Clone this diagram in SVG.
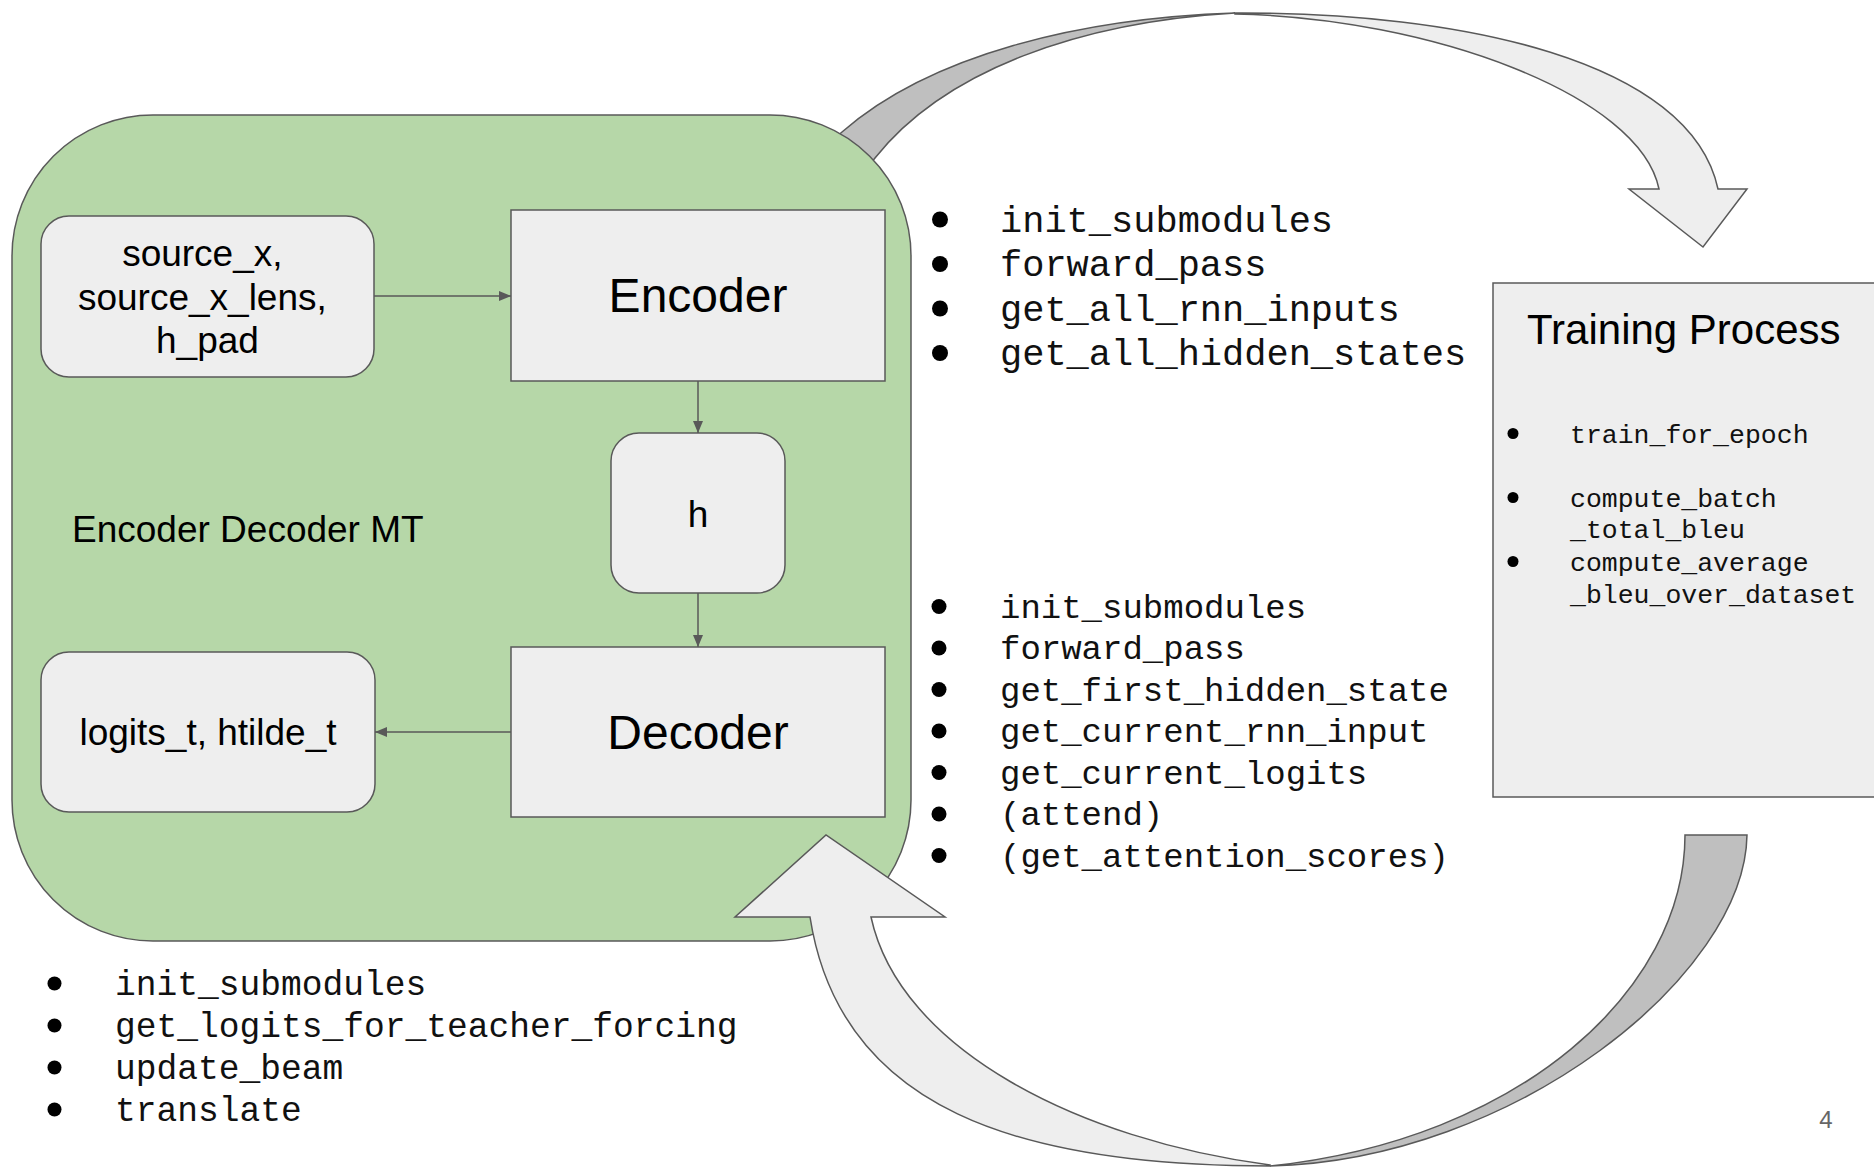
<svg xmlns="http://www.w3.org/2000/svg" width="1874" height="1167" viewBox="0 0 1874 1167">
  <style>
    .sans { font-family: "Liberation Sans", Arial, sans-serif; fill: #000; }
    .mono { font-family: "Liberation Mono", "Courier New", monospace; fill: #111; }
    .box { fill: #eeeeee; stroke: #595959; stroke-width: 1.5; }
    .band-light { fill: #eeeeee; stroke: #595959; stroke-width: 1.5; stroke-linejoin: miter; }
    .band-dark { fill: #bfbfbf; stroke: #595959; stroke-width: 1.5; stroke-linejoin: miter; }
    .link { stroke: #595959; stroke-width: 1.5; fill: none; marker-end: url(#tip); }
    .dot { fill: #000; }
  </style>
  <defs>
    <marker id="tip" markerUnits="userSpaceOnUse" markerWidth="12" markerHeight="10" refX="12" refY="5" orient="auto">
      <path d="M0,0 L12,5 L0,10 Z" fill="#595959"/>
    </marker>
  </defs>

  <rect x="0" y="0" width="1874" height="1167" fill="#ffffff"/>

  <!-- curved arrow: model -> training (passes behind the model box) -->
  <g id="arrow-to-training">
    <path class="band-dark" d="M820,151 L842,132 C930,55 1080,18 1235,13 C1080,22 945,70 875,158 L860,177 Z"/>
    <path class="band-light" d="M1235,13 C1460,12 1690,60 1718,189 L1747,189 L1703,247 L1629,189 L1659,189 C1640,95 1430,18 1235,14 Z"/>
  </g>

  <!-- model container -->
  <g id="encoder-decoder-mt">
    <rect x="12" y="115" width="899" height="826" rx="141" ry="141" fill="#b6d7a8" stroke="#595959" stroke-width="1.5"/>
    <text class="sans" x="72" y="542" font-size="37">Encoder Decoder MT</text>
  </g>

  <g id="source-inputs">
    <rect class="box" x="41" y="216" width="333" height="161" rx="28" ry="28"/>
    <text class="sans" font-size="37" text-anchor="middle">
      <tspan x="207.5" y="266">source_x,</tspan>
      <tspan x="207.5" y="309.5">source_x_lens,</tspan>
      <tspan x="207.5" y="353">h_pad</tspan>
    </text>
  </g>

  <g id="encoder">
    <rect class="box" x="511" y="210" width="374" height="171"/>
    <text class="sans" x="698" y="312" font-size="48" text-anchor="middle">Encoder</text>
  </g>

  <g id="hidden-state">
    <rect class="box" x="611" y="433" width="174" height="160" rx="28" ry="28"/>
    <text class="sans" x="698" y="527" font-size="37" text-anchor="middle">h</text>
  </g>

  <g id="decoder">
    <rect class="box" x="511" y="647" width="374" height="170"/>
    <text class="sans" x="698" y="749" font-size="48" text-anchor="middle">Decoder</text>
  </g>

  <g id="outputs">
    <rect class="box" x="41" y="652" width="334" height="160" rx="28" ry="28"/>
    <text class="sans" x="208" y="745" font-size="37" text-anchor="middle">logits_t, htilde_t</text>
  </g>

  <!-- connectors between the model parts -->
  <g id="connectors">
    <line class="link" x1="374" y1="296" x2="511" y2="296"/>
    <line class="link" x1="698" y1="381" x2="698" y2="433"/>
    <line class="link" x1="698" y1="593" x2="698" y2="647"/>
    <line class="link" x1="511" y1="732" x2="375" y2="732"/>
  </g>

  <!-- curved arrow: training -> model (drawn over the model box) -->
  <g id="arrow-from-training">
    <path class="band-dark" d="M1685,835 L1747,835 C1745,975 1515,1160 1270,1166 C1520,1140 1685,990 1685,835 Z"/>
    <path class="band-light" d="M1270,1166 C1020,1166 840,1110 810,917 L735,917 L826,835 L945,917 L871,917 C900,1050 1080,1140 1270,1165 Z"/>
  </g>

  <g id="training-process">
    <rect x="1493" y="283" width="395" height="514" fill="#eeeeee" stroke="#595959" stroke-width="1.5"/>
    <text class="sans" x="1527" y="344" font-size="42">Training Process</text>
    <circle class="dot" cx="1513" cy="433.5" r="5.5"/>
    <circle class="dot" cx="1513" cy="497.5" r="5.5"/>
    <circle class="dot" cx="1513" cy="561.5" r="5.5"/>
    <text class="mono" font-size="26.5">
      <tspan x="1570" y="442.5">train_for_epoch</tspan>
      <tspan x="1570" y="506.5">compute_batch</tspan>
      <tspan x="1570" y="537.5">_total_bleu</tspan>
      <tspan x="1570" y="570.5">compute_average</tspan>
      <tspan x="1570" y="602.5">_bleu_over_dataset</tspan>
    </text>
  </g>

  <!-- method lists -->
  <g id="encoder-methods">
    <circle class="dot" cx="940" cy="219.5" r="8"/>
    <circle class="dot" cx="940" cy="264" r="8"/>
    <circle class="dot" cx="940" cy="308.5" r="8"/>
    <circle class="dot" cx="940" cy="353" r="8"/>
    <text class="mono" font-size="37">
      <tspan x="1000" y="231.5">init_submodules</tspan>
      <tspan x="1000" y="276">forward_pass</tspan>
      <tspan x="1000" y="320.5">get_all_rnn_inputs</tspan>
      <tspan x="1000" y="365">get_all_hidden_states</tspan>
    </text>
  </g>

  <g id="decoder-methods">
    <circle class="dot" cx="939" cy="606.5" r="7.5"/>
    <circle class="dot" cx="939" cy="648" r="7.5"/>
    <circle class="dot" cx="939" cy="689.5" r="7.5"/>
    <circle class="dot" cx="939" cy="731" r="7.5"/>
    <circle class="dot" cx="939" cy="772.5" r="7.5"/>
    <circle class="dot" cx="939" cy="814" r="7.5"/>
    <circle class="dot" cx="939" cy="855.5" r="7.5"/>
    <text class="mono" font-size="34">
      <tspan x="1000" y="617.5">init_submodules</tspan>
      <tspan x="1000" y="659">forward_pass</tspan>
      <tspan x="1000" y="700.5">get_first_hidden_state</tspan>
      <tspan x="1000" y="742">get_current_rnn_input</tspan>
      <tspan x="1000" y="783.5">get_current_logits</tspan>
      <tspan x="1000" y="825">(attend)</tspan>
      <tspan x="1000" y="866.5">(get_attention_scores)</tspan>
    </text>
  </g>

  <g id="model-methods">
    <circle class="dot" cx="54.5" cy="983.5" r="7"/>
    <circle class="dot" cx="54.5" cy="1025.5" r="7"/>
    <circle class="dot" cx="54.5" cy="1067.5" r="7"/>
    <circle class="dot" cx="54.5" cy="1109.5" r="7"/>
    <text class="mono" font-size="34.6">
      <tspan x="115" y="994.5">init_submodules</tspan>
      <tspan x="115" y="1036.5">get_logits_for_teacher_forcing</tspan>
      <tspan x="115" y="1078.5">update_beam</tspan>
      <tspan x="115" y="1120.5">translate</tspan>
    </text>
  </g>

  <text class="sans" x="1826" y="1128" font-size="24" text-anchor="middle" style="fill:#666666">4</text>
</svg>
